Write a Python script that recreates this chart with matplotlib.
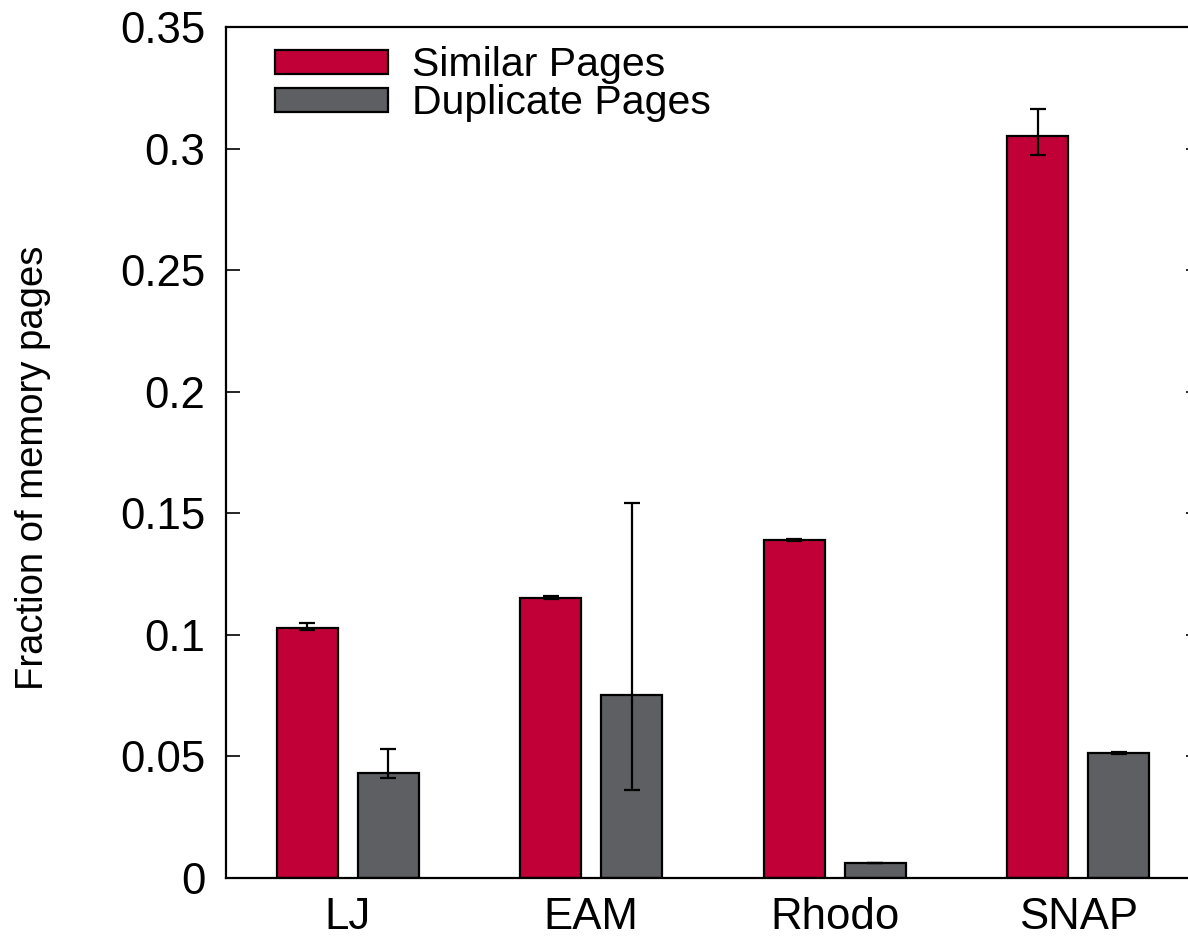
import numpy as np
import matplotlib.pyplot as plt

plt.rcParams['font.family'] = ['Liberation Sans', 'DejaVu Sans']

benchmarks = ["LJ", "EAM", "Rhodo", "SNAP"]
similar = [0.103, 0.1152, 0.139, 0.3052]
similar_lo = [0.0012, 0.0006, 0.0003, 0.0078]
similar_hi = [0.0018, 0.0008, 0.0003, 0.0111]
duplicate = [0.0432, 0.0753, 0.0062, 0.0514]
duplicate_lo = [0.0021, 0.0391, 0.0, 0.0004]
duplicate_hi = [0.0098, 0.0789, 0.0, 0.0004]

red = "#C10037"
gray = "#5E5F63"

fig = plt.figure(figsize=(11.88, 9.38), dpi=100)
ax = fig.add_axes([226 / 1188, 60 / 938, 974 / 1188, 851 / 938])

x = np.arange(len(benchmarks))
w = 0.25
off = 0.166
err_kw = dict(ecolor="black", elinewidth=1.6, capsize=6, capthick=1.6)

ax.bar(x - off, similar, w, color=red, edgecolor="black", linewidth=1.6,
       yerr=[similar_lo, similar_hi], error_kw=err_kw, label="Similar Pages")
ax.bar(x + off, duplicate, w, color=gray, edgecolor="black", linewidth=1.6,
       yerr=[duplicate_lo, duplicate_hi], error_kw=err_kw, label="Duplicate Pages")

ax.set_xlim(-0.5, 3.5)
ax.set_ylim(0, 0.35)
ax.set_yticks(np.arange(0, 0.351, 0.05))
ax.set_yticklabels(["0", "0.05", "0.1", "0.15", "0.2", "0.25", "0.3", "0.35"])
ax.set_xticks(x)
ax.set_xticklabels(benchmarks)
ax.tick_params(axis="y", direction="in", length=10, width=1.2, labelsize=31.5,
               pad=15, right=True)
ax.tick_params(axis="x", length=0, labelsize=31.5, pad=14)
for s in ax.spines.values():
    s.set_linewidth(1.6)

ax.set_ylabel("Fraction of memory pages", fontsize=27.5)
ax.yaxis.set_label_coords(-0.1797, 0.4818)

ax.legend(loc="upper left", frameon=False, fontsize=29.5, handlelength=2.76,
          handleheight=0.54, handletextpad=0.6, labelspacing=0.0,
          borderaxespad=0.3, bbox_to_anchor=(0.0206, 1.011))

fig.savefig("out.png", dpi=100)
